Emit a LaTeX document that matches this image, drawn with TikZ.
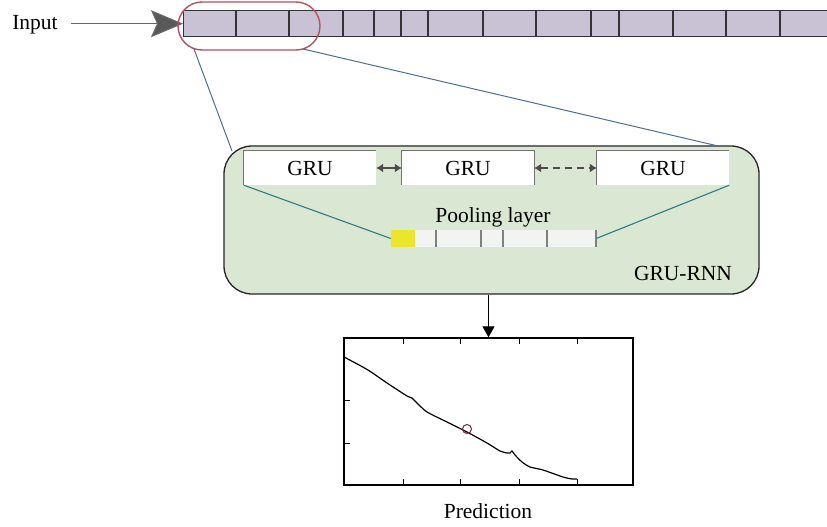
\documentclass[tikz,border=0pt]{standalone}
\usepackage{fontspec}
\setmainfont{Liberation Serif}
\usetikzlibrary{arrows.meta}
\definecolor{barfill}{HTML}{C9C2D4}
\definecolor{ellred}{HTML}{B5505E}
\definecolor{zoomblue}{HTML}{4E6E96}
\definecolor{rnngreen}{HTML}{D9E7D3}
\definecolor{poolfill}{HTML}{F2F4F2}
\definecolor{poolyellow}{HTML}{EDE52B}
\definecolor{tealline}{HTML}{2E7D80}
\definecolor{darkred}{HTML}{7A2838}
\begin{document}
\begin{tikzpicture}[x=1pt,y=-1pt,
  txt/.style={font=\fontsize{21.5}{25}\selectfont, inner sep=0pt},
  grubox/.style={fill=white, minimum width=132pt, minimum height=34pt, inner sep=0pt, font=\fontsize{21.5}{25}\selectfont},
  gruedge/.style={draw=black!55, line width=1.2pt},
  celldiv/.style={draw=black!80, line width=1.3pt},
  pooldiv/.style={draw=black!50, line width=1.2pt},
  gruarrow/.style={draw=black!70, line width=1.2pt, {Latex[length=7pt,width=9pt]}-{Latex[length=7pt,width=9pt]}},
  zoomline/.style={draw=zoomblue, line width=1pt},
  tealconn/.style={draw=tealline, line width=1.1pt},
  tick/.style={draw=black, line width=1pt}
]
\clip (0,0) rectangle (827,527);
\fill[white] (0,0) rectangle (827,527);

% input bar
\node[draw=black!80, fill=barfill, line width=1.4pt, anchor=north west, minimum width=660pt, minimum height=26pt, inner sep=0pt] (bar) at (183,10) {};
\foreach \x in {236,289,343,374,401,428,483,536,591,619,673,726,780}
  \draw[celldiv] (\x,10) -- (\x,36);

% input label and arrow
\node[txt, anchor=base] (inp) at (35,30) {Input};
\draw[draw=black!60, line width=1.2pt, -{Stealth[length=32pt,width=27pt,inset=6pt,fill=black!65]}] ([xshift=13pt]inp.east |- bar.west) -- (bar.west);

% red highlight
\node[draw=ellred, line width=1.4pt, rounded corners=24pt, minimum width=142pt, minimum height=48pt, inner sep=0pt] (ell) at (249,26) {};

% GRU-RNN box
\node[draw=black!85, fill=rnngreen, line width=1.3pt, rounded corners=28pt, minimum width=535pt, minimum height=148pt, inner sep=0pt] (rnn) at (491.5,220) {};
\node[txt, anchor=base] (rnnlabel) at (683,280) {GRU-RNN};

% zoom lines
\coordinate (zl1) at (194,49);
\coordinate (zl2) at (232,151);
\coordinate (zr1) at (303,49);
\coordinate (zr2) at (718,146);
\draw[zoomline] (zl1) -- (zl2);
\draw[zoomline] (zr1) -- (zr2);

% GRU boxes
\node[grubox] (g1) at (310,168) {GRU};
\node[grubox] (g2) at (468,168) {GRU};
\node[grubox] (g3) at (663,168) {GRU};
\draw[gruedge] (g1.south west) -- (g1.north west) -- (g1.north east);
\draw[gruedge] (g2.south west) -- (g2.north west) -- (g2.north east) -- (g2.south east);
\draw[gruedge] (g3.south west) -- (g3.north west) -- (g3.north east);
\draw[gruarrow] (g1.east) -- (g2.west);
\draw[gruarrow, dash pattern=on 7pt off 5pt] (g2.east) -- (g3.west);

% pooling layer
\node[txt, anchor=base] (poollabel) at (493,222) {Pooling layer};
\node[fill=poolfill, minimum width=205pt, minimum height=17pt, inner sep=0pt] (pool) at (493.5,238.5) {};
\fill[poolyellow] (pool.north west) rectangle (415,247);
\foreach \x in {436,481,503,547,596}
  \draw[pooldiv] (\x,230) -- (\x,247);
\draw[tealconn] (g1.south west) -- (pool.west);
\draw[tealconn] (g3.south east) -- (pool.east);

% prediction plot
\node[draw=black, line width=1.4pt, minimum width=289pt, minimum height=147pt, inner sep=0pt] (plot) at (488.5,411.5) {};
\draw[line width=1.2pt, -{Triangle[length=11pt,width=12pt]}] (plot.north |- rnn.south) -- (plot.north);
\foreach \x in {403,460,519,577} {
  \draw[tick] (\x,338) -- (\x,344);
  \draw[tick] (\x,485) -- (\x,479);
}
\foreach \y in {400,443}
  \draw[tick] (344,\y) -- (350,\y);
\draw[line width=1.2pt] plot[smooth, tension=0.4] coordinates {
  (344,357) (346,358) (368,370) (387,383) (407,396) (412,398) (417,403)
  (427,412) (447,422) (467,432) (487,443) (500,451) (507,453) (510,453)
  (512,451) (515,455) (522,462) (530,467) (543,470) (563,477) (572,479) (577,479)};
\node[draw=darkred, circle, line width=1pt, minimum size=9pt, inner sep=0pt] (pt) at (467,429) {};
\node[txt, anchor=base] (predlabel) at (488,518) {Prediction};
\end{tikzpicture}
\end{document}
